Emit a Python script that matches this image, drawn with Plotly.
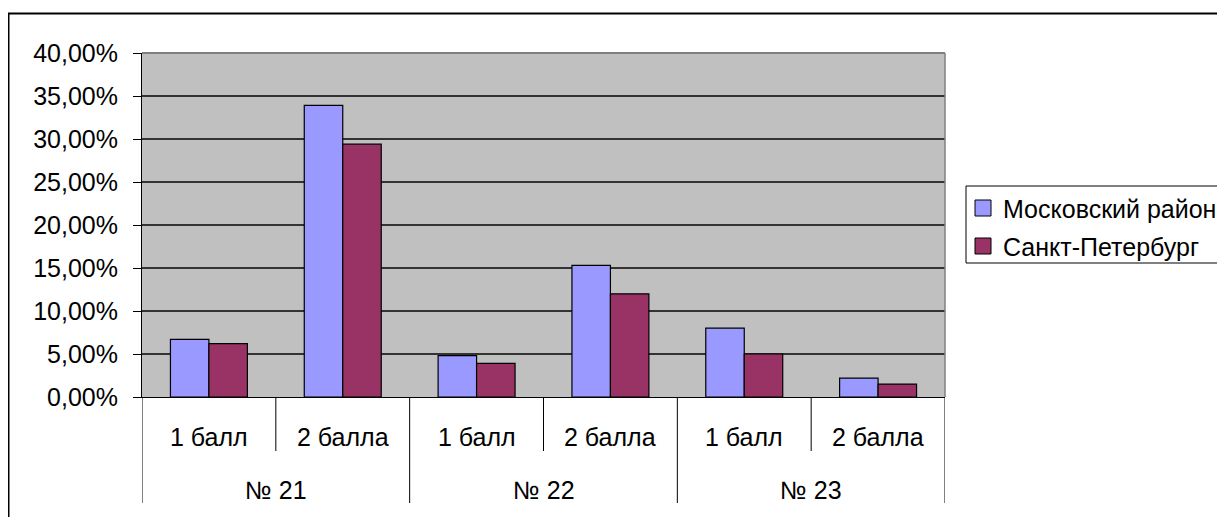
import plotly.graph_objects as go

groups = ["№ 21", "№ 22", "№ 23"]
subs = ["1 балл", "2 балла", "1 балл", "2 балла", "1 балл", "2 балла"]
series_names = ["Московский район", "Санкт-Петербург"]
moscow = [0.067, 0.339, 0.048, 0.153, 0.080, 0.022]
spb = [0.062, 0.294, 0.039, 0.120, 0.050, 0.015]
colors = ["#9999FF", "#993366"]
yticks = [0, 0.05, 0.10, 0.15, 0.20, 0.25, 0.30, 0.35, 0.40]

OFF = 8  # default page body margin
W, H = 1225, 517
L, R, T, B = 142 - OFF, 945 - OFF, 53 - OFF, 397 - OFF
pw, ph = R - L, B - T

def px_x(x):
    return (x - OFF - L) / pw

def px_y(y):
    return (B - (y - OFF)) / ph

FONT = "Liberation Sans, Arial, sans-serif"
FS = 25

xs = list(range(len(subs)))
fig = go.Figure()
for name, vals, c in zip(series_names, [moscow, spb], colors):
    fig.add_trace(go.Bar(x=xs, y=vals, name=name, marker=dict(color=c, line=dict(color="black", width=1.2))))

fig.update_layout(
    width=W, height=H,
    margin=dict(l=L, r=W - R, t=T, b=H - B, autoexpand=False),
    paper_bgcolor="white", plot_bgcolor="#C0C0C0",
    separators=", ",
    barmode="group", bargap=0.425, bargroupgap=0,
    font=dict(family=FONT, size=FS, color="black"),
    showlegend=False,
)
fig.update_xaxes(range=[-0.5, len(subs) - 0.5], showticklabels=False, showgrid=False,
                 zeroline=False, showline=True, linecolor="black", linewidth=1, ticks="")
fig.update_yaxes(range=[0, 0.4], tickvals=yticks, tickformat=".2%", showgrid=True,
                 gridcolor="#333333", gridwidth=1.5, zeroline=False, showline=True,
                 linecolor="black", linewidth=1, ticks="outside", ticklen=8,
                 tickcolor="black", ticklabelstandoff=10,
                 tickfont=dict(family=FONT, size=FS, color="black"))

shapes = []
shapes.append(dict(type="line", xref="paper", yref="paper", x0=0, x1=1, y0=1, y1=1,
                   line=dict(color="#808080", width=2)))
shapes.append(dict(type="line", xref="paper", yref="paper", x0=1, x1=1, y0=0, y1=1,
                   line=dict(color="#808080", width=1.5)))
for i in range(len(subs) + 1):
    xv = i - 0.5
    long_line = (i % 2 == 0)
    shapes.append(dict(type="line", xref="x", yref="paper", x0=xv, x1=xv,
                       y0=0, y1=px_y(503) if long_line else px_y(451),
                       line=dict(color="black", width=1)))
# outer chart border
shapes.append(dict(type="rect", xref="paper", yref="paper",
                   x0=px_x(8.5), x1=px_x(1260), y0=px_y(540), y1=px_y(13.5),
                   line=dict(color="black", width=2), fillcolor="rgba(0,0,0,0)", layer="below"))
# legend box and symbols
shapes.append(dict(type="rect", xref="paper", yref="paper",
                   x0=px_x(966), x1=px_x(1260), y0=px_y(263), y1=px_y(186),
                   line=dict(color="black", width=1), fillcolor="white"))
ann = []
for k, (name, c) in enumerate(zip(series_names, colors)):
    cy = 208 + k * 38
    shapes.append(dict(type="rect", xref="paper", yref="paper",
                       x0=px_x(975), x1=px_x(991), y0=px_y(cy + 8), y1=px_y(cy - 8),
                       line=dict(color="black", width=1), fillcolor=c))
    ann.append(dict(x=px_x(1001), y=px_y(cy + 1), xref="paper", yref="paper", text=name,
                    showarrow=False, xanchor="left", yanchor="middle",
                    font=dict(family=FONT, size=FS, color="black")))
fig.update_layout(shapes=shapes)

for i, s in enumerate(subs):
    ann.append(dict(x=i, y=px_y(437), xref="x", yref="paper", text=s, showarrow=False,
                    xanchor="center", yanchor="middle", font=dict(family=FONT, size=FS, color="black")))
for g, gname in enumerate(groups):
    ann.append(dict(x=2 * g + 0.5, y=px_y(490), xref="x", yref="paper", text=gname, showarrow=False,
                    xanchor="center", yanchor="middle", font=dict(family=FONT, size=FS, color="black")))
fig.update_layout(annotations=ann)

fig.write_html("out.html")
